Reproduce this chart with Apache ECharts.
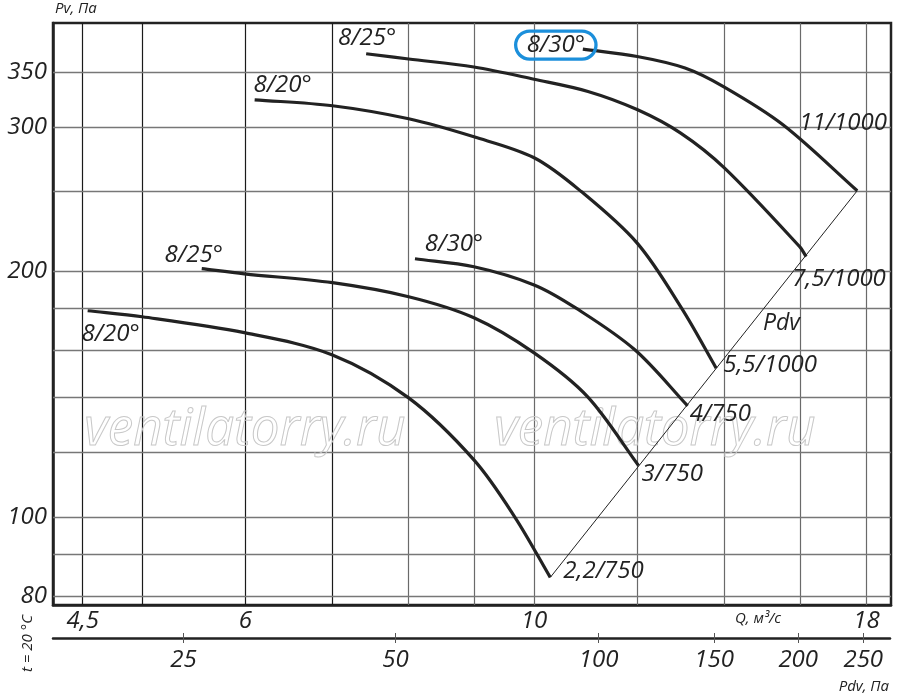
<!DOCTYPE html>
<html>
<head>
<meta charset="utf-8">
<script src="https://cdn.jsdelivr.net/npm/echarts@6.0.0/dist/echarts.min.js"></script>
<style>
html,body{margin:0;padding:0;background:#fff}
#chart{width:900px;height:698px}
</style>
</head>
<body>
<div id="chart"></div>
<script>
// оси
const qTicks = [4.5, 6, 10, 18];
const qGrid = [4.5, 5, 6, 7, 8, 9, 10, 12, 14, 16, 18];
const pvTicks = [80, 100, 200, 300, 350];
const pvGrid = [80, 90, 100, 120, 140, 160, 180, 200, 250, 300, 350];
const pdvTicks = [25, 50, 100, 150, 200, 250];
const pdvTickQ = [5.38, 7.83, 11.22, 13.77, 15.98, 17.93];

// кривые
const names = ['8/20°', '8/25°', '8/30°', '8/20°', '8/25°', '8/30°'];
const motors = ['2,2/750', '3/750', '4/750', '5,5/1000', '7,5/1000', '11/1000'];

const q1 = [4.54, 5.0, 5.99, 7.0, 8.01, 8.99, 9.67, 10.29];
const pv1 = [178.7, 175.7, 168.0, 157.8, 139.8, 117.4, 99.8, 84.3];
const q2 = [5.555, 5.99, 7.0, 8.01, 8.99, 10.0, 10.99, 12.03];
const pv2 = [201.2, 198.3, 193.4, 185.9, 175.2, 158.7, 140.3, 115.5];
const q3 = [8.10, 8.99, 10.0, 10.77, 11.95, 13.12];
const pv3 = [206.9, 202.3, 192.2, 180.0, 160.1, 136.7];
const q4 = [6.10, 7.0, 8.01, 8.99, 10.0, 10.87, 12.0, 12.98, 13.80];
const pv4 = [323.8, 318.4, 306.9, 291.7, 275.0, 250.0, 216.2, 180.0, 152.0];
const q5 = [7.43, 8.01, 8.99, 10.0, 11.0, 12.01, 12.96, 14.0, 15.99, 16.18];
const pv5 = [368.6, 363.2, 355.1, 343.1, 331.5, 314.8, 294.8, 267.3, 214.2, 208.2];
const q6 = [10.9, 12.0, 13.06, 14.0, 15.53, 17.71];
const pv6 = [373.5, 365.8, 354.1, 335.6, 301.8, 250.6];

// линия Pdv
const pdvQ = [10.29, 17.71];
const pdvPv = [84.3, 250.6];

const curvesQ = [q1, q2, q3, q4, q5, q6];
const curvesPv = [pv1, pv2, pv3, pv4, pv5, pv6];

const FONT = '"Open Sans", "Noto Sans", sans-serif';
const INK = '#222';
const txt = {fontFamily: FONT, fontStyle: 'italic', color: INK};
const LABEL_FONT = 'italic 24px ' + FONT;

const nameOffsets = [[23, 23], [-8, -14], [39, -15], [28, -15], [1, -16], [-27, -4]];
const motorOffsets = [[13, -6], [3, 8], [2, 8], [7, -3], [-14, 23], [-58, -68]];

function commaNum(v) {
    return String(+v.toFixed(2)).replace('.', ',');
}

// сглаженный путь по точкам в пикселях (касательные по длинам хорд)
function splinePath(p) {
    const n = p.length;
    const d = [];
    for (let i = 0; i < n - 1; i++) {
        d.push(Math.hypot(p[i + 1][0] - p[i][0], p[i + 1][1] - p[i][1]));
    }
    const m = p.map((pt, i) => {
        if (i === 0) return [(p[1][0] - pt[0]) / d[0], (p[1][1] - pt[1]) / d[0]];
        if (i === n - 1) return [(pt[0] - p[i - 1][0]) / d[i - 1], (pt[1] - p[i - 1][1]) / d[i - 1]];
        const s = d[i - 1] + d[i];
        return [(p[i + 1][0] - p[i - 1][0]) / s, (p[i + 1][1] - p[i - 1][1]) / s];
    });
    let path = 'M' + p[0][0] + ' ' + p[0][1];
    for (let i = 0; i < n - 1; i++) {
        const h = d[i] / 3;
        path += ' C' + (p[i][0] + m[i][0] * h) + ' ' + (p[i][1] + m[i][1] * h) + ' ' +
            (p[i + 1][0] - m[i + 1][0] * h) + ' ' + (p[i + 1][1] - m[i + 1][1] * h) + ' ' +
            p[i + 1][0] + ' ' + p[i + 1][1];
    }
    return path;
}

let curveSeries = curvesQ.map((qs, k) => {
    const pvs = curvesPv[k];
    const data = qs.map((q, i) => [q, pvs[i]]);
    return {
        type: 'custom', xAxisIndex: 0, yAxisIndex: 0,
        data: data, encode: {x: 0, y: 1},
        z: 5, silent: true, animation: false, clip: false,
        renderItem: (params, api) => {
            if (params.dataIndex !== 0) return null;
            const pts = data.map(d => api.coord(d));
            const first = pts[0], last = pts[pts.length - 1];
            const nameStyle = {
                text: names[k], font: LABEL_FONT, fill: INK, align: 'center', verticalAlign: 'middle'
            };
            if (k === 5) {
                Object.assign(nameStyle, {
                    borderColor: '#1b8fdb', borderWidth: 3.3, borderRadius: 15, padding: [3, 11, 1, 11]
                });
            }
            return {
                type: 'group',
                children: [
                    {type: 'path', shape: {pathData: splinePath(pts)},
                     style: {stroke: INK, lineWidth: 3.2, fill: null, lineCap: 'butt', lineJoin: 'round'}},
                    {type: 'text', x: first[0] + nameOffsets[k][0], y: first[1] + nameOffsets[k][1], style: nameStyle},
                    {type: 'text', x: last[0] + motorOffsets[k][0], y: last[1] + motorOffsets[k][1],
                     style: {text: motors[k], font: LABEL_FONT, fill: INK, align: 'left', verticalAlign: 'middle'}}
                ]
            };
        }
    };
});

const gridLines = qGrid.map(v => ({
    xAxis: v,
    lineStyle: {color: v < 8 ? '#1a1a1a' : '#6a6a6a', width: 1.2, type: 'solid'}
})).concat(pvGrid.map(v => ({
    yAxis: v,
    lineStyle: {color: '#777', width: 1.3, type: 'solid'}
})));

let option = {
    backgroundColor: '#fff',
    animation: false,
    grid: [
        {left: 53, right: 9, top: 23, bottom: 93, show: true, borderColor: INK, borderWidth: 2.5, backgroundColor: 'transparent'},
        {left: 53, right: 10, top: 620, height: 18, show: false}
    ],
    xAxis: [
        {
            type: 'log', gridIndex: 0, min: 4.27, max: 18.8, position: 'bottom',
            axisLine: {show: true, lineStyle: {color: INK, width: 2.5}},
            axisTick: {show: false},
            splitLine: {show: false}, minorSplitLine: {show: false},
            axisLabel: Object.assign({customValues: qTicks, formatter: v => commaNum(v), fontSize: 24, margin: 4}, txt)
        },
        {
            type: 'log', gridIndex: 1, min: 4.27, max: 18.8, position: 'bottom',
            axisLine: {show: true, lineStyle: {color: INK, width: 2.5}},
            axisTick: {show: true, customValues: pdvTickQ, length: 5, lineStyle: {color: '#555', width: 1}},
            splitLine: {show: false},
            axisLabel: Object.assign({
                customValues: pdvTickQ, fontSize: 24, margin: 10,
                formatter: v => {
                    let best = 0;
                    pdvTickQ.forEach((t, i) => { if (Math.abs(t - v) < Math.abs(pdvTickQ[best] - v)) best = i; });
                    return String(pdvTicks[best]);
                }
            }, txt)
        },
        {
            type: 'log', gridIndex: 1, min: 4.27, max: 18.8, position: 'bottom',
            axisLine: {show: false},
            axisTick: {show: true, inside: true, customValues: pdvTickQ, length: 5, lineStyle: {color: '#555', width: 1}},
            splitLine: {show: false},
            axisLabel: {show: false}
        }
    ],
    yAxis: [
        {
            type: 'log', gridIndex: 0, min: 78, max: 402,
            axisLine: {show: true, lineStyle: {color: INK, width: 2.5}},
            axisTick: {show: false},
            splitLine: {show: false}, minorSplitLine: {show: false},
            axisLabel: Object.assign({customValues: pvTicks, fontSize: 24, margin: 6}, txt)
        },
        {
            type: 'value', gridIndex: 1, show: false
        }
    ],
    graphic: [
        {type: 'text', left: 55, top: 1, silent: true,
         style: {text: 'Pv, Па', font: 'italic 15px ' + FONT, fill: INK}},
        {type: 'text', left: 735, top: 611, silent: true,
         style: {text: 'Q, м³/с', font: 'italic 15px ' + FONT, fill: INK}},
        {type: 'text', right: 11, top: 679, silent: true,
         style: {text: 'Pdv, Па', font: 'italic 15px ' + FONT, fill: INK}},
        {type: 'text', x: 20, y: 672, rotation: Math.PI / 2, silent: true,
         style: {text: 't = 20 °C', font: 'italic 15px ' + FONT, fill: INK, align: 'left', verticalAlign: 'top'}},
        {type: 'text', left: 763, top: 312, silent: true, z: 10,
         style: {text: 'Pdv', font: 'italic 23px ' + FONT, fill: INK}},
        {type: 'text', x: 245, y: 430, silent: true, z: 2,
         style: {text: 'ventilatorry.ru', font: 'italic 51px ' + FONT, fill: 'rgba(255,255,255,0)', stroke: '#c8c8c8', lineWidth: 1, align: 'center', verticalAlign: 'middle'}},
        {type: 'text', x: 655, y: 430, silent: true, z: 2,
         style: {text: 'ventilatorry.ru', font: 'italic 51px ' + FONT, fill: 'rgba(255,255,255,0)', stroke: '#c8c8c8', lineWidth: 1, align: 'center', verticalAlign: 'middle'}}
    ],
    series: [
        {
            type: 'line', xAxisIndex: 0, yAxisIndex: 0,
            data: pdvQ.map((q, i) => [q, pdvPv[i]]),
            symbol: 'none', lineStyle: {color: INK, width: 1}, z: 4, silent: true,
            markLine: {silent: true, symbol: ['none', 'none'], label: {show: false}, data: gridLines, animation: false, z: 1}
        }
    ].concat(curveSeries)
};

let myChart = echarts.init(document.getElementById('chart'), null, {renderer: 'canvas'});
myChart.setOption(option);
</script>
</body>
</html>
